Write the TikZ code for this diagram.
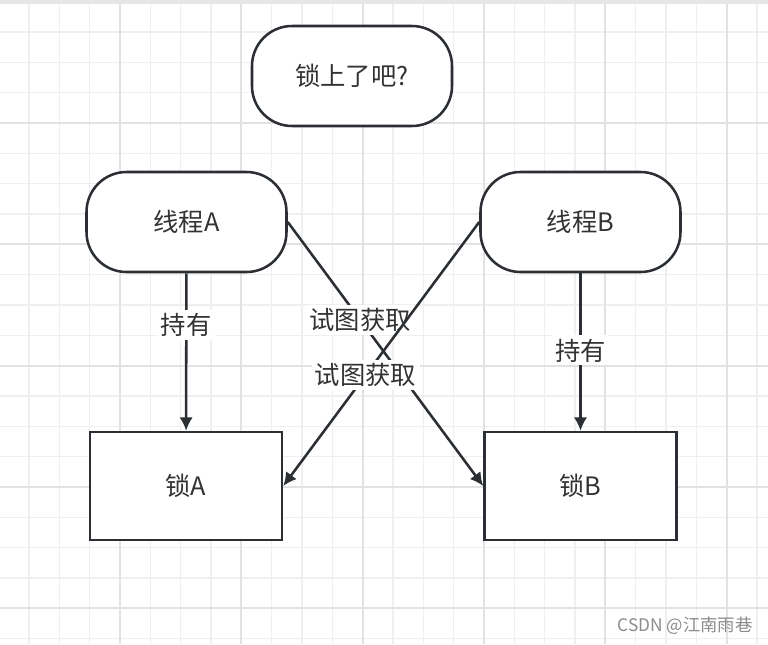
\documentclass[tikz,border=0pt]{standalone}
\usepackage{fontspec}
\setmainfont{Noto Sans CJK SC}
\usetikzlibrary{arrows.meta}

\definecolor{ink}{RGB}{43,47,51}
\definecolor{gridminor}{RGB}{239,239,239}
\definecolor{gridmajor}{RGB}{226,226,226}
\definecolor{topband}{RGB}{229,230,232}

\tikzset{
  term/.style={draw=ink, line width=1.9pt, fill=white, rounded corners=30pt,
    minimum width=150pt, minimum height=75pt, text=black!80,
    font=\fontsize{19}{23}\selectfont},
  lockbox/.style={draw=ink, line width=1.9pt, fill=white,
    minimum width=144pt, minimum height=81pt, text=black!80,
    font=\fontsize{19}{23}\selectfont},
  link/.style={draw=ink, line width=1.9pt, -{Latex[length=10pt,width=10pt]}},
  tag/.style={fill=white, inner sep=2.5pt, text=black!80,
    font=\fontsize{19}{23}\selectfont}
}

\begin{document}
\begin{tikzpicture}[x=0.75pt,y=0.75pt,yscale=-1,xscale=1]

% Canvas
\useasboundingbox (0,0) rectangle (768,644);
\fill[white] (0,0) rectangle (768,644);

% Grid
\foreach \i in {0,...,26} {
  \draw[gridminor, line width=1.1pt] (-1.3+30.33*\i,0) -- (-1.3+30.33*\i,644);
  \draw[gridminor, line width=1.1pt] (0,1.7+30.33*\i) -- (768,1.7+30.33*\i);
}
\foreach \i in {1,...,6} {
  \draw[gridmajor, line width=1.4pt] (-1.3+121.32*\i,0) -- (-1.3+121.32*\i,644);
  \draw[gridmajor, line width=1.4pt] (0,1.7+121.32*\i) -- (768,1.7+121.32*\i);
}
\fill[topband] (0,0) rectangle (768,4);

% Nodes
\node[term] (ask) at (352,76) {锁上了吧?};
\node[term] (thA) at (186.5,222) {线程A};
\node[term] (thB) at (580.5,222) {线程B};
\node[lockbox] (lockA) at (186,486) {锁A};
\node[lockbox] (lockB) at (580.5,486) {锁B};

% Arrows
\draw[link] (thA) -- node[tag, pos=0.33] {持有} (lockA);
\draw[link] (thB) -- node[tag, pos=0.49] {持有} (lockB);
\draw[link] (thA.east) -- node[tag, pos=0.37] {试图获取} (lockB.west);
\draw[link] (thB.west) -- node[tag, pos=0.58] {试图获取} (lockA.east);

% Watermark
\node[text=black!45, font=\fontsize{13}{15}\selectfont] (mark) at (685,626) {CSDN @江南雨巷};

\end{tikzpicture}
\end{document}
